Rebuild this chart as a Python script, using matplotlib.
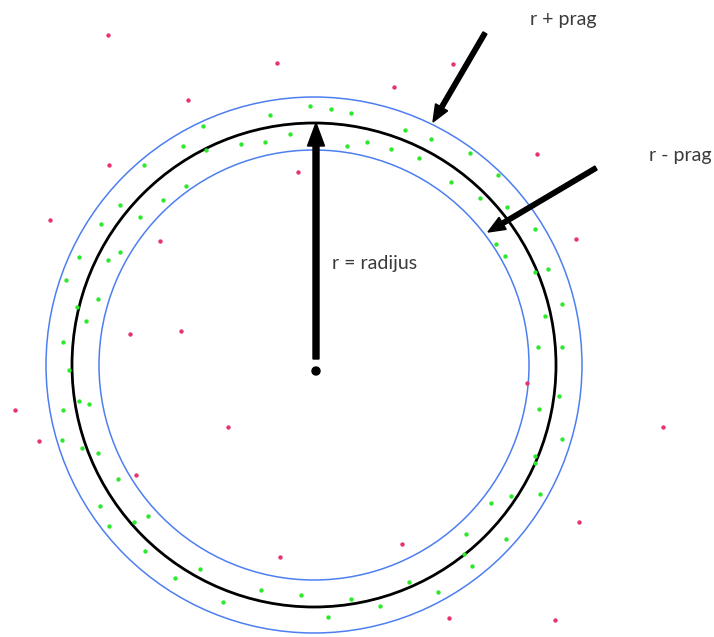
import matplotlib
matplotlib.use("Agg")
import matplotlib.pyplot as plt
from matplotlib.patches import Circle

# --- podaci (pikseli) ---
centar = (314, 365)
r_unutra = 215   # r - prag
r_srednji = 242  # r = radijus
r_vani = 268     # r + prag

crveni_x = [108, 277, 453, 394, 188, 109, 298, 537, 50, 160, 576, 130, 181, 527,
            15, 228, 663, 39, 136, 579, 402, 280, 449, 555]
crveni_y = [35, 63, 64, 87, 100, 165, 172, 154, 220, 241, 239, 334, 331, 383,
            410, 427, 427, 441, 475, 522, 544, 557, 618, 620]

zeleni_x = [310, 331, 351, 270, 203, 290, 265, 241, 183, 206, 347, 144, 186, 163,
            120, 140, 101, 120, 79, 108, 66, 98, 77, 86,
            367, 405, 431, 391, 419, 470, 498, 451, 480, 507, 535, 496, 505, 548,
            535, 562, 545,
            63, 69, 79, 89, 63, 62, 82, 98, 118, 100, 148, 134, 109, 145, 200,
            175, 261, 223, 301, 328, 351,
            538, 562, 559, 539, 562, 535, 535, 540, 511, 491, 466, 506, 464, 472,
            409, 438, 380]
zeleni_y = [106, 109, 113, 115, 126, 134, 142, 144, 146, 150, 146, 165, 186, 200,
            205, 217, 224, 252, 257, 260, 280, 299, 307, 321,
            142, 130, 139, 149, 158, 153, 175, 182, 198, 207, 229, 244, 256, 269,
            272, 304, 316,
            342, 370, 401, 404, 410, 440, 448, 453, 479, 506, 516, 522, 526, 551, 569,
            578, 590, 602, 595, 617, 599,
            347, 347, 396, 409, 439, 456, 463, 494, 496, 503, 534, 539, 554, 566,
            582, 592, 606]

fig = plt.figure(figsize=(7.14, 6.37), dpi=100)
ax = fig.add_axes([0, 0, 1, 1])
ax.set_xlim(0, 714)
ax.set_ylim(637, 0)
ax.axis('off')

# krugovi
ax.add_patch(Circle(centar, r_vani, fill=False, edgecolor='#4d7ff0', lw=1.1))
ax.add_patch(Circle(centar, r_unutra, fill=False, edgecolor='#4d7ff0', lw=1.1))
ax.add_patch(Circle(centar, r_srednji, fill=False, edgecolor='black', lw=2.0))

# tocke
ax.scatter(crveni_x, crveni_y, s=10, color='#e8336b', linewidths=0, zorder=3)
ax.scatter(zeleni_x, zeleni_y, s=10, color='#2ee82e', linewidths=0, zorder=3)

# sredina + radijus
ax.add_patch(Circle((316, 371), 4, color='black', zorder=4))
ax.arrow(316, 359, 0, 123 - 359, width=6, head_width=17, head_length=23,
         length_includes_head=True, color='black', zorder=4)

# strelice za prag
ax.arrow(485, 33, 433 - 485, 122 - 33, width=4.5, head_width=14, head_length=17,
         length_includes_head=True, color='black', zorder=4)
ax.arrow(596, 168, 488 - 596, 232 - 168, width=4.5, head_width=14, head_length=17,
         length_includes_head=True, color='black', zorder=4)

# tekst
font = dict(family='Lato', fontsize=14, color='#3a3a3a')
ax.text(563, 19, "r + prag", ha='center', va='center', **font)
ax.text(680, 156, "r - prag", ha='center', va='center', **font)
ax.text(332, 263, "r = radijus", ha='left', va='center', **font)

fig.savefig("out.png", dpi=100)
